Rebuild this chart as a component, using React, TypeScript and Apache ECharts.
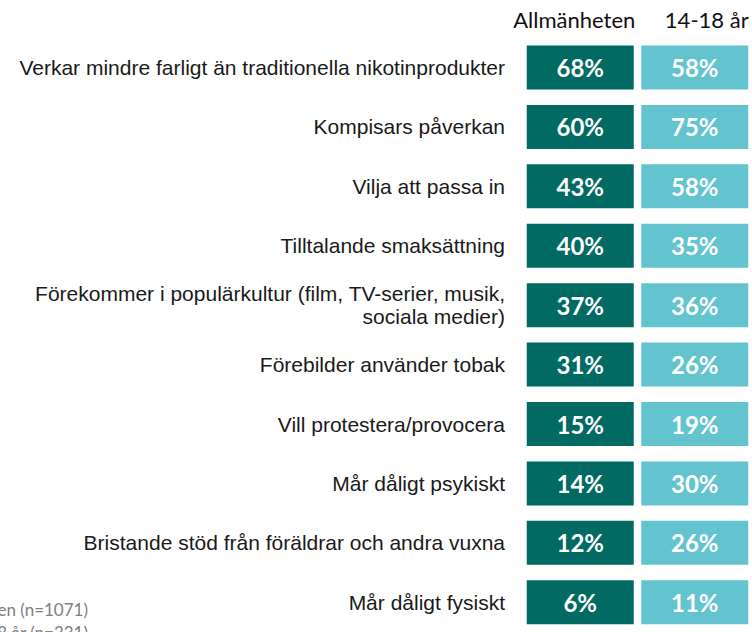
import React, { useEffect, useRef } from "react";
import * as echarts from "echarts";

const columns = ["Allmänheten", "14-18 år"];
const categories = [
  "Verkar mindre farligt än traditionella nikotinprodukter",
  "Kompisars påverkan",
  "Vilja att passa in",
  "Tilltalande smaksättning",
  "Förekommer i populärkultur (film, TV-serier, musik,\nsociala medier)",
  "Förebilder använder tobak",
  "Vill protestera/provocera",
  "Mår dåligt psykiskt",
  "Bristande stöd från föräldrar och andra vuxna",
  "Mår dåligt fysiskt",
];
const allmanheten = [68, 60, 43, 40, 37, 31, 15, 14, 12, 6];
const ungdomar = [58, 75, 58, 35, 36, 26, 19, 30, 26, 11];
const sampleNotes = ["Allmänheten (n=1071)", "14-18 år (n=331)"];

const colors = ["#006a63", "#63c4cf"];

export default function App() {
  const ref = useRef<HTMLDivElement>(null);
  useEffect(() => {
    if (!ref.current) return;
    const chart = echarts.init(ref.current, null, { renderer: "svg" });
    const mk = (vals: number[], col: number) =>
      vals.map((v, i) => ({ value: [columns[col], categories[i], v] }));
    const seriesFor = (vals: number[], col: number) => ({
      type: "scatter",
      name: columns[col],
      data: mk(vals, col),
      symbol: "rect",
      symbolSize: [107, 44],
      itemStyle: { color: colors[col], opacity: 1 },
      label: {
        show: true,
        position: "inside",
        formatter: (p: any) => p.value[2] + "%",
        color: "#ffffff",
        fontFamily: "Lato",
        fontWeight: "bold",
        fontSize: 24,
      },
      emphasis: { disabled: true },
    });
    chart.setOption({
      animation: false,
      backgroundColor: "#ffffff",
      grid: { left: 523, right: -9, top: 37.75, bottom: -10.75, containLabel: false },
      xAxis: {
        type: "category",
        data: columns,
        position: "top",
        axisLine: { show: false },
        axisTick: { show: false },
        splitLine: { show: false },
        axisLabel: {
          interval: 0,
          hideOverlap: false,
          margin: 7,
          fontFamily: "Lato",
          fontSize: 22,
          color: "#111111",
          formatter: (v: string) => (v === columns[0] ? "{a|" + v + "}" : "{b|" + v + "}"),
          rich: {
            a: { fontFamily: "Lato", fontSize: 22, color: "#111111", padding: [0, 12, 0, 0] },
            b: { fontFamily: "Lato", fontSize: 22, color: "#111111", padding: [0, 0, 0, 24] },
          },
        },
      },
      yAxis: {
        type: "category",
        data: categories,
        inverse: true,
        axisLine: { show: false },
        axisTick: { show: false },
        splitLine: { show: false },
        axisLabel: {
          interval: 0,
          margin: 18,
          fontFamily: "Liberation Sans",
          fontSize: 21,
          lineHeight: 23,
          color: "#1a1a1a",
          align: "right",
        },
      },
      series: [seriesFor(allmanheten, 0), seriesFor(ungdomar, 1)],
      graphic: [
        {
          type: "text",
          x: 88,
          y: 609,
          style: {
            text: sampleNotes[0],
            align: "right",
            verticalAlign: "middle",
            fontFamily: "Lato",
            fontSize: 17,
            fill: "#808080",
          },
        },
        {
          type: "text",
          x: 88,
          y: 632,
          style: {
            text: sampleNotes[1],
            align: "right",
            verticalAlign: "middle",
            fontFamily: "Lato",
            fontSize: 17,
            fill: "#808080",
          },
        },
      ],
    });
    return () => chart.dispose();
  }, []);
  return <div ref={ref} style={{ width: 752, height: 632, position: "absolute", left: 0, top: 0 }} />;
}
